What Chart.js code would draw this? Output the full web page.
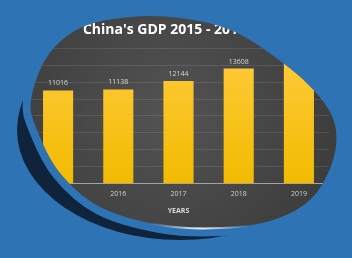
<!DOCTYPE html>
<html>
<head>
<meta charset="utf-8">
<script src="https://cdn.jsdelivr.net/npm/chart.js@4"></script>
<style>
  html, body { margin: 0; padding: 0; background: #2e74b5; }
</style>
</head>
<body>
<canvas id="gdpChart" width="352" height="258"></canvas>
<script>
const years = ['2015', '2016', '2017', '2018', '2019'];
const gdp = [11016, 11138, 12144, 13608, 14280];
const yTicks = [0, 2000, 4000, 6000, 8000, 10000, 12000, 14000, 16000];

// outline of the dark oval the chart sits in (decoration only)
const oval = [
  [47, 57], [80, 28], [130, 17], [180, 18], [233, 31], [283, 63], [318, 95],
  [335, 125], [333, 160], [312, 198], [273, 220], [220, 228], [160, 225],
  [100, 207], [60, 173], [37, 130], [31, 100]
];

function ovalPath(ctx) {
  const n = oval.length;
  ctx.beginPath();
  ctx.moveTo(oval[0][0], oval[0][1]);
  for (let i = 0; i < n; i++) {
    const p0 = oval[(i - 1 + n) % n], p1 = oval[i], p2 = oval[(i + 1) % n], p3 = oval[(i + 2) % n];
    ctx.bezierCurveTo(
      p1[0] + (p2[0] - p0[0]) / 6, p1[1] + (p2[1] - p0[1]) / 6,
      p2[0] - (p3[0] - p1[0]) / 6, p2[1] - (p3[1] - p1[1]) / 6,
      p2[0], p2[1]);
  }
  ctx.closePath();
}

const backdrop = {
  id: 'backdrop',
  beforeDraw(chart) {
    const ctx = chart.ctx;
    ctx.save();
    ctx.fillStyle = '#2e74b5';
    ctx.fillRect(0, 0, chart.width, chart.height);

    // navy swoosh under the oval
    ctx.save();
    ctx.beginPath();
    ctx.rect(0, 95, 240, 200);
    ctx.clip();
    ctx.beginPath();
    ctx.ellipse(180, 130, 163, 110, 0, 0, Math.PI * 2);
    ctx.fillStyle = '#0f243b';
    ctx.fill();
    ctx.restore();

    // blue gap between swoosh and oval
    ovalPath(ctx);
    ctx.fillStyle = '#2e74b5';
    ctx.strokeStyle = '#2e74b5';
    ctx.lineWidth = 16;
    ctx.lineJoin = 'round';
    ctx.stroke();
    ctx.fill();

    // dark oval
    ovalPath(ctx);
    const g = ctx.createRadialGradient(170, 115, 10, 170, 115, 175);
    g.addColorStop(0, '#525252');
    g.addColorStop(1, '#3c3c3c');
    ctx.fillStyle = g;
    ctx.fill();
    ctx.restore();

    ctx.save();
    ovalPath(ctx);
    ctx.clip();
  },
  afterDraw(chart) {
    const ctx = chart.ctx;
    ctx.restore();
    // light reflection on the bottom rim
    ctx.save();
    ctx.beginPath();
    ctx.rect(140, 205, 120, 40);
    ctx.clip();
    ovalPath(ctx);
    const lg = ctx.createLinearGradient(150, 0, 250, 0);
    lg.addColorStop(0, 'rgba(255,255,255,0)');
    lg.addColorStop(0.5, 'rgba(255,255,255,0.9)');
    lg.addColorStop(1, 'rgba(255,255,255,0)');
    ctx.strokeStyle = lg;
    ctx.lineWidth = 2;
    ctx.stroke();
    ctx.restore();
  }
};

const valueLabels = {
  id: 'valueLabels',
  afterDatasetsDraw(chart) {
    const ctx = chart.ctx;
    const meta = chart.getDatasetMeta(0);
    ctx.save();
    ctx.fillStyle = '#d6d6d6';
    ctx.font = '7px "Open Sans"';
    ctx.textAlign = 'center';
    ctx.textBaseline = 'middle';
    meta.data.forEach((bar, i) => {
      ctx.fillText(gdp[i], bar.x, bar.y - 7);
    });
    ctx.restore();
  }
};

Chart.defaults.font.family = '"Open Sans", sans-serif';

new Chart(document.getElementById('gdpChart'), {
  type: 'bar',
  data: {
    labels: years,
    datasets: [{
      data: gdp,
      backgroundColor: (c) => {
        const area = c.chart.chartArea;
        if (!area) return '#ffc000';
        const g = c.chart.ctx.createLinearGradient(0, area.top, 0, area.bottom);
        g.addColorStop(0, '#ffcb3d');
        g.addColorStop(1, '#f2bb00');
        return g;
      },
      borderWidth: 0,
      barPercentage: 0.5,
      categoryPercentage: 1
    }]
  },
  options: {
    responsive: false,
    animation: false,
    layout: { padding: { left: 0, right: 23, top: 0, bottom: 41 } },
    plugins: {
      legend: { display: false },
      tooltip: { enabled: false },
      title: {
        display: true,
        text: "China's GDP 2015 - 2019",
        color: '#ffffff',
        font: { size: 14, weight: 'bold' },
        padding: { top: 22, bottom: 9.5 }
      }
    },
    scales: {
      x: {
        grid: { display: false, drawTicks: false },
        border: { color: '#a3a3a3' },
        ticks: { color: '#d0d0d0', font: { size: 7 }, padding: 6 },
        title: {
          display: true, text: 'YEARS', color: '#d9d9d9',
          font: { size: 7, weight: 'bold' }, padding: { top: 2.5, bottom: 2 }
        }
      },
      y: {
        min: yTicks[0],
        max: yTicks[yTicks.length - 1],
        ticks: { display: false, stepSize: yTicks[1] - yTicks[0] },
        grid: { color: 'rgba(255,255,255,0.1)', drawTicks: false },
        border: { display: false },
        afterFit(scale) { scale.width = 28; }
      }
    }
  },
  plugins: [backdrop, valueLabels]
});
</script>
</body>
</html>
